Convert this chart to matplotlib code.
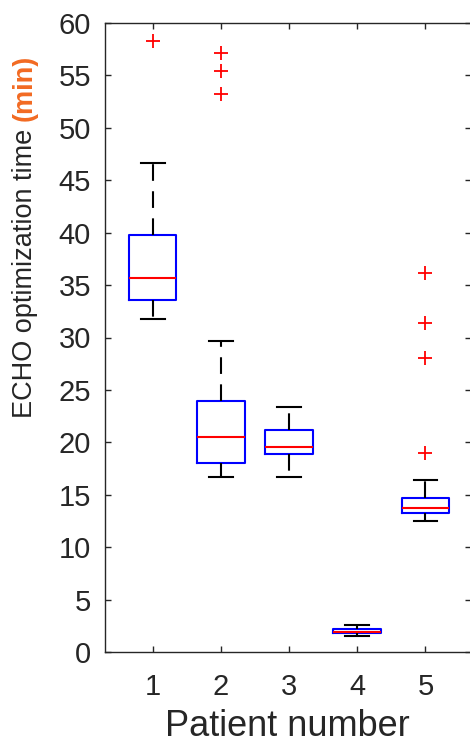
import matplotlib
matplotlib.use("Agg")
import matplotlib.pyplot as plt

plt.rcParams['font.family'] = ['Liberation Sans', 'DejaVu Sans']

# box statistics (minutes)
patients = [1, 2, 3, 4, 5]
medians = [35.65, 20.5, 19.55, 1.95, 13.7]
q1s = [33.6, 18.0, 18.85, 1.8, 13.3]
q3s = [39.8, 23.9, 21.2, 2.2, 14.7]
whis_lo = [31.8, 16.7, 16.7, 1.5, 12.45]
whis_hi = [46.6, 29.7, 23.4, 2.55, 16.4]
outliers = [[58.3], [57.1, 55.45, 53.2], [], [], [36.2, 31.35, 28.05, 18.95]]

txt = '#262626'
orange = '#F26A22'

stats = []
for i in range(len(patients)):
    stats.append(dict(med=medians[i], q1=q1s[i], q3=q3s[i],
                      whislo=whis_lo[i], whishi=whis_hi[i],
                      fliers=outliers[i], label=str(patients[i])))

fig = plt.figure(figsize=(4.7, 7.47), dpi=100)
ax = fig.add_axes([105 / 470, 95 / 747, 365.5 / 470, 629 / 747])

ax.bxp(stats, positions=patients, widths=0.7, capwidths=0.35,
       boxprops=dict(color='#0000FF', linewidth=1.5),
       medianprops=dict(color='#FF0000', linewidth=1.5),
       whiskerprops=dict(color='black', linewidth=1.5, linestyle=(0, (8, 5))),
       capprops=dict(color='black', linewidth=1.5),
       flierprops=dict(marker='+', markeredgecolor='#FF0000', markersize=10,
                       markeredgewidth=1.3, linestyle='none'))

ax.set_xlim(0.302, 5.66)
ax.set_ylim(0, 60)
ax.set_yticks(range(0, 61, 5))
ax.set_xticks(patients)
ax.set_xticklabels([str(p) for p in patients])

for s in ax.spines.values():
    s.set_color(txt)
    s.set_linewidth(1.0)
ax.tick_params(direction='in', length=4, width=1.0, color=txt, labelcolor=txt,
               labelsize=21, top=True, right=True)
ax.tick_params(axis='y', pad=10)
ax.tick_params(axis='x', pad=15)

ax.set_xlabel('Patient number', fontsize=26, color=txt, labelpad=6)

# y label in two colours
t1 = fig.text(25 / 470, 1 - 418 / 747, 'ECHO optimization time ', rotation=90,
              rotation_mode='anchor', ha='left', va='center', fontsize=19.5,
              color=txt)
ax.annotate('(min)', xy=(0.5, 1.0), xycoords=t1, rotation=90, rotation_mode='anchor',
            ha='left', va='center', fontsize=19.5, color=orange, fontweight='bold',
            annotation_clip=False)

fig.savefig('out.png', dpi=100)
